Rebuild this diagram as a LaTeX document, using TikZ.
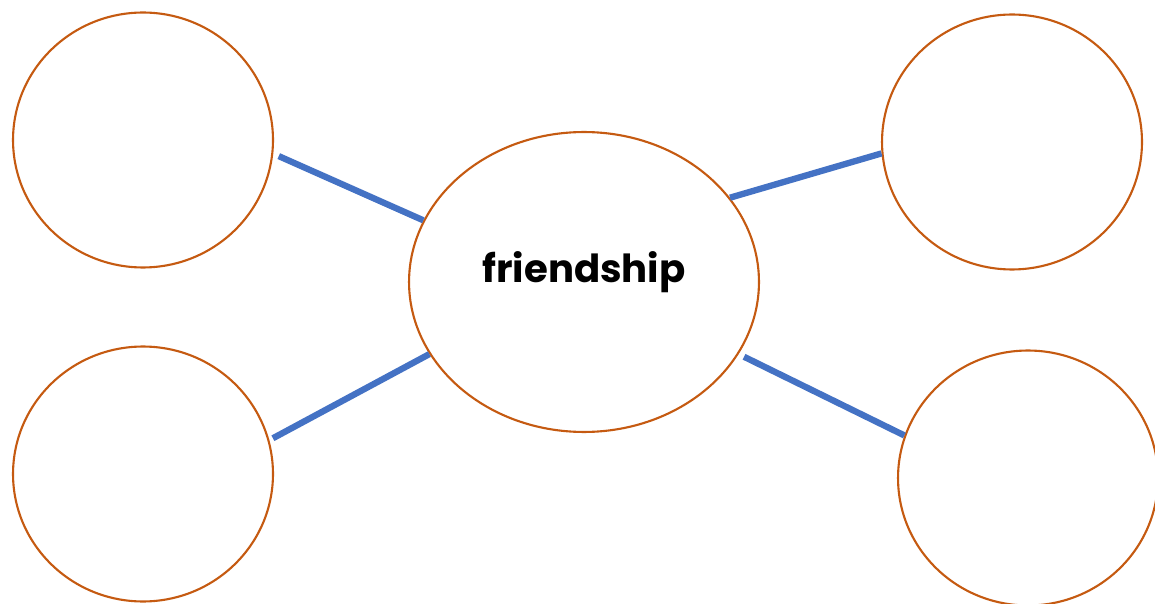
\documentclass[tikz,border=0pt]{standalone}
\usepackage{fontspec}
\setsansfont{Poppins}
\usetikzlibrary{shapes.geometric}

\definecolor{rimorange}{HTML}{C55A11}
\definecolor{linkblue}{HTML}{4472C4}

\begin{document}
\begin{tikzpicture}[
  x=0.02cm, y=-0.02cm,
  bubble/.style={ellipse, draw=rimorange, line width=1.2pt, fill=white,
                 minimum width=5.2cm, minimum height=5.1cm, inner sep=0pt},
  hub/.style={bubble, minimum width=7cm, minimum height=6cm,
              font=\sffamily\bfseries\fontsize{22}{25}\selectfont,
              text height=1ex, text depth=1ex},
  link/.style={draw=linkblue, line width=3.6pt}
]
\useasboundingbox (0,0) rectangle (1155,604);

\node[hub]    (c)  at (584,282)  {friendship};
\node[bubble] (tl) at (143,140)  {};
\node[bubble] (bl) at (143,474)  {};
\node[bubble] (tr) at (1012,142) {};
\node[bubble] (br) at (1028,478) {};

\draw[link, shorten <=0.12cm] (tl.-6)   -- (c.159);
\draw[link, shorten <=0.08cm] (bl.15)   -- (c.205);
\draw[link]                   (c.30)    -- (tr.185);
\draw[link, shorten <=0.12cm] (c.-25)   -- (br.161);
\end{tikzpicture}
\end{document}
